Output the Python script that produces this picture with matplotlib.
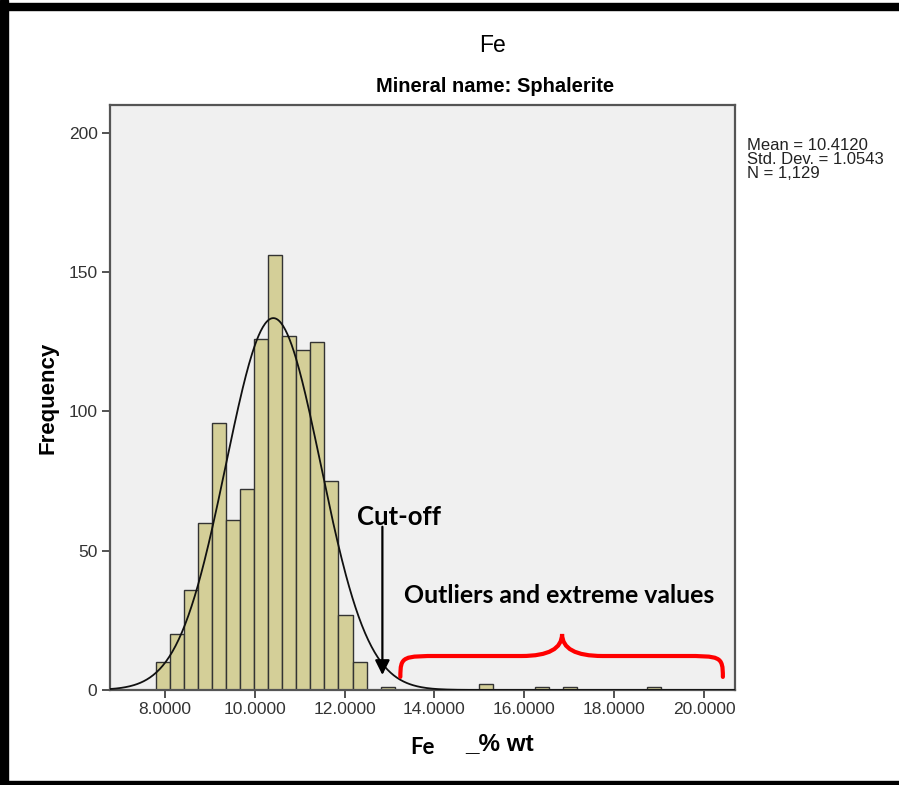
import numpy as np
import matplotlib
matplotlib.use("Agg")
import matplotlib.pyplot as plt
from matplotlib.patches import Rectangle, PathPatch
from matplotlib.path import Path

# histogram of Fe (% wt), bins
bin_start = 7.8
bin_width = 0.3125
counts = [10, 20, 36, 60, 96, 61, 72, 126, 156, 127, 122, 125, 75, 27, 10,
          0, 1, 0, 0, 0, 0, 0, 0, 2, 0, 0, 0, 1, 0, 1, 0, 0, 0, 0, 0, 1]
x_ticks = [8, 10, 12, 14, 16, 18, 20]
y_ticks = [0, 50, 100, 150, 200]

# fitted normal curve parameters (from the stats box)
mean_fe = 10.4120
sd_fe = 1.0543
n_fe = 1129

# annotation anchors (data coords)
cutoff_x = 12.84
brace_x = [13.24, 16.84, 20.42]
brace_y = [4.7, 12.2, 20.1]

fig = plt.figure(figsize=(8.99, 7.85), dpi=100)
ax = fig.add_axes([110/899, 1-690/785, 625/899, 585/785])
ax.set_facecolor('#f0f0f0')

lefts = bin_start + bin_width*np.arange(len(counts))
cnt = np.array(counts)
mask = cnt > 0
ax.bar(lefts[mask], cnt[mask], width=bin_width, align='edge',
       color='#d4cf98', edgecolor='#333333', linewidth=1.0, zorder=2)

# normal curve
xs = np.linspace(6.6, 20.8, 600)
ys = n_fe*bin_width*np.exp(-0.5*((xs-mean_fe)/sd_fe)**2)/(sd_fe*np.sqrt(2*np.pi))
ax.plot(xs, ys, color='#111111', linewidth=1.3, zorder=3)

ax.set_xlim(6.776, 20.69)
ax.set_ylim(0, 210)
ax.set_xticks(x_ticks)
ax.set_xticklabels(['%.4f' % v for v in x_ticks])
ax.set_yticks(y_ticks)
for s in ax.spines.values():
    s.set_color('#555555')
    s.set_linewidth(1.6)
ax.tick_params(direction='out', length=6, width=1.3, color='#444444',
               labelsize=12.5, labelcolor='#333333', pad=3)
for lab in ax.get_xticklabels() + ax.get_yticklabels():
    lab.set_family('Liberation Sans')

ax.set_ylabel('Frequency', fontsize=16, fontweight='bold', family='Liberation Sans', labelpad=7)

# titles
fig.text(493/899, 1-45/785, 'Fe', ha='center', va='center', fontsize=16.5, family='Liberation Sans')
fig.text(495/899, 1-87/785, 'Mineral name: Sphalerite', ha='center', va='center',
         fontsize=14.5, fontweight='bold', family='Liberation Sans')

# stats box
stats = ['Mean = %.4f' % mean_fe, 'Std. Dev. = %.4f' % sd_fe, 'N = 1,129']
for i, t in enumerate(stats):
    fig.text(747/899, 1-(146+14*i)/785, t, ha='left', va='center', fontsize=12,
             family='Liberation Sans', color='#222222')

# x label
fig.text(423/899, 1-747/785, 'Fe', ha='center', va='center', fontsize=16,
         fontweight='bold', family='Lato')
fig.text(465/899, 1-744/785, '_% wt', ha='left', va='center', fontsize=17.5,
         fontweight='bold', family='Liberation Sans')

# cut-off arrow
ax.text(13.22, 62, 'Cut-off', ha='center', va='center', fontsize=18.5,
        fontweight='bold', family='Lato', zorder=5)
ax.annotate('', xy=(cutoff_x, 5.4), xytext=(cutoff_x, 58.6),
            arrowprops=dict(arrowstyle='-|>', color='black', lw=1.6,
                            mutation_scale=22, shrinkA=0, shrinkB=0), zorder=5)

# outliers label + red brace
ax.text(16.78, 33.8, 'Outliers and extreme values', ha='center',
        va='center', fontsize=17.9, fontweight='bold', family='Lato', zorder=5)
x0, xm, x1 = brace_x
yb, yh, yt = brace_y
k = 0.9
verts = [(x0, yb), (x0, yh), (x0 + 0.05, yh), (x0 + k, yh),
         (xm - k, yh), (xm, yh), (xm, yt),
         (xm, yh), (xm + k, yh), (x1 - k, yh),
         (x1 - 0.05, yh), (x1, yh), (x1, yb)]
codes = [Path.MOVETO, Path.CURVE4, Path.CURVE4, Path.CURVE4,
         Path.LINETO, Path.CURVE3, Path.CURVE3,
         Path.CURVE3, Path.CURVE3, Path.LINETO,
         Path.CURVE4, Path.CURVE4, Path.CURVE4]
ax.add_patch(PathPatch(Path(verts, codes), facecolor='none', edgecolor='#ff0000',
                       linewidth=3, capstyle='round', zorder=5))

# outer frame
fig.add_artist(Rectangle((0, 0), 8/899, 1, transform=fig.transFigure, color='black'))
fig.add_artist(Rectangle((0, 1-10/785), 1, 7/785, transform=fig.transFigure, color='black'))
fig.add_artist(Rectangle((0, 0), 1, 4/785, transform=fig.transFigure, color='black'))

fig.savefig('out.png', dpi=100)
